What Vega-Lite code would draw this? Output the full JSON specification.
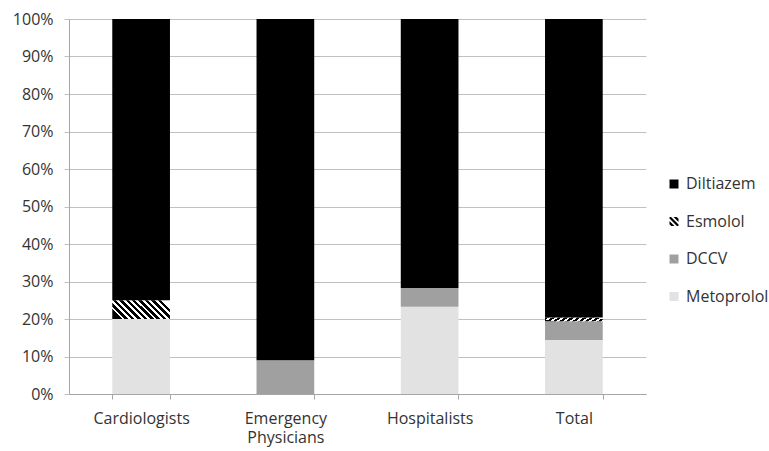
{
  "$schema": "https://vega.github.io/schema/vega-lite/v6.json",
  "width": 577,
  "height": 375,
  "autosize": {"type": "none"},
  "padding": {"left": 69, "top": 19, "right": 123, "bottom": 57},
  "background": "white",
  "config": {
    "view": {"stroke": null},
    "font": "Open Sans",
    "axis": {"labelFont": "Open Sans", "labelFontSize": 16, "labelColor": "#333333"},
    "legend": {"labelFont": "Open Sans", "labelFontSize": 16, "labelColor": "#333333"}
  },
  "data": {
    "values": [
      {"group": "Cardiologists", "drug": "Metoprolol", "share": 0.20},
      {"group": "Cardiologists", "drug": "Esmolol", "share": 0.05},
      {"group": "Cardiologists", "drug": "Diltiazem", "share": 0.75},
      {"group": "Emergency Physicians", "drug": "DCCV", "share": 0.09},
      {"group": "Emergency Physicians", "drug": "Diltiazem", "share": 0.91},
      {"group": "Hospitalists", "drug": "Metoprolol", "share": 0.233},
      {"group": "Hospitalists", "drug": "DCCV", "share": 0.05},
      {"group": "Hospitalists", "drug": "Diltiazem", "share": 0.717},
      {"group": "Total", "drug": "Metoprolol", "share": 0.144},
      {"group": "Total", "drug": "DCCV", "share": 0.05},
      {"group": "Total", "drug": "Esmolol", "share": 0.01},
      {"group": "Total", "drug": "Diltiazem", "share": 0.796}
    ]
  },
  "transform": [
    {"calculate": "indexof(['Metoprolol','DCCV','Esmolol','Diltiazem'], datum.drug)", "as": "stackRank"}
  ],
  "encoding": {
    "x": {
      "field": "group",
      "type": "nominal",
      "sort": ["Cardiologists", "Emergency Physicians", "Hospitalists", "Total"],
      "scale": {"paddingInner": 0.6, "paddingOuter": 0.3},
      "axis": {
        "title": null,
        "labelAngle": 0,
        "tickBand": "extent",
        "tickSize": 5,
        "tickColor": "#a6a6a6",
        "domainColor": "#a6a6a6",
        "labelPadding": 11,
        "labelLineHeight": 19,
        "labelExpr": "datum.label == 'Emergency Physicians' ? ['Emergency', 'Physicians'] : datum.label"
      }
    },
    "y": {
      "field": "share",
      "type": "quantitative",
      "stack": "zero",
      "scale": {"domain": [0, 1], "nice": false},
      "axis": {
        "title": null,
        "format": ".0%",
        "values": [0, 0.1, 0.2, 0.3, 0.4, 0.5, 0.6, 0.7, 0.8, 0.9, 1],
        "grid": true,
        "gridColor": "#c0c0c0",
        "tickColor": "#c0c0c0",
        "tickSize": 5,
        "domainColor": "#a6a6a6",
        "labelPadding": 11
      }
    },
    "order": {"field": "stackRank", "type": "quantitative", "sort": "ascending"}
  },
  "layer": [
    {
      "mark": {"type": "point", "filled": true, "opacity": 0},
      "encoding": {
        "fill": {
          "field": "drug",
          "type": "nominal",
          "scale": {
            "domain": ["Diltiazem", "Esmolol", "DCCV", "Metoprolol"],
            "range": ["#000000", "#000000", "#a0a0a0", "#e2e2e2"]
          },
          "legend": {
            "title": null,
            "orient": "none",
            "legendX": 597,
            "legendY": 157,
            "padding": 0,
            "symbolSize": 81,
            "symbolStrokeWidth": 0,
            "symbolOpacity": 1,
            "labelOffset": 4,
            "rowPadding": 21.5
          }
        },
        "shape": {
          "field": "drug",
          "type": "nominal",
          "scale": {
            "domain": ["Diltiazem", "Esmolol", "DCCV", "Metoprolol"],
            "range": ["square", "M-0.1,-1L0.6,-1L1,-0.6L1,0.1ZM-0.65,-1L1,0.65L1,1L0.65,1L-1,-0.65L-1,-1ZM-1,-0.1L0.1,1L-0.6,1L-1,0.6Z", "square", "square"]
          },
          "legend": {
            "title": null,
            "orient": "none",
            "legendX": 597,
            "legendY": 157,
            "padding": 0,
            "symbolSize": 81,
            "symbolStrokeWidth": 0,
            "symbolOpacity": 1,
            "labelOffset": 4,
            "rowPadding": 21.5
          }
        }
      }
    },
    {
      "mark": {"type": "bar", "strokeWidth": 0},
      "encoding": {
        "fill": {
          "condition": {
            "test": "datum.drug === 'Esmolol'",
            "value": {
              "gradient": "linear",
              "x1": 0, "y1": 0.663, "x2": 1, "y2": 0.337,
              "stops": [
                {"offset": 0, "color": "#000000"}, {"offset": 0.055, "color": "#000000"}, {"offset": 0.055, "color": "#ffffff"}, {"offset": 0.1, "color": "#ffffff"},
                {"offset": 0.1, "color": "#000000"}, {"offset": 0.155, "color": "#000000"}, {"offset": 0.155, "color": "#ffffff"}, {"offset": 0.2, "color": "#ffffff"},
                {"offset": 0.2, "color": "#000000"}, {"offset": 0.255, "color": "#000000"}, {"offset": 0.255, "color": "#ffffff"}, {"offset": 0.3, "color": "#ffffff"},
                {"offset": 0.3, "color": "#000000"}, {"offset": 0.355, "color": "#000000"}, {"offset": 0.355, "color": "#ffffff"}, {"offset": 0.4, "color": "#ffffff"},
                {"offset": 0.4, "color": "#000000"}, {"offset": 0.455, "color": "#000000"}, {"offset": 0.455, "color": "#ffffff"}, {"offset": 0.5, "color": "#ffffff"},
                {"offset": 0.5, "color": "#000000"}, {"offset": 0.555, "color": "#000000"}, {"offset": 0.555, "color": "#ffffff"}, {"offset": 0.6, "color": "#ffffff"},
                {"offset": 0.6, "color": "#000000"}, {"offset": 0.655, "color": "#000000"}, {"offset": 0.655, "color": "#ffffff"}, {"offset": 0.7, "color": "#ffffff"},
                {"offset": 0.7, "color": "#000000"}, {"offset": 0.755, "color": "#000000"}, {"offset": 0.755, "color": "#ffffff"}, {"offset": 0.8, "color": "#ffffff"},
                {"offset": 0.8, "color": "#000000"}, {"offset": 0.855, "color": "#000000"}, {"offset": 0.855, "color": "#ffffff"}, {"offset": 0.9, "color": "#ffffff"},
                {"offset": 0.9, "color": "#000000"}, {"offset": 0.955, "color": "#000000"}, {"offset": 0.955, "color": "#ffffff"}, {"offset": 1, "color": "#ffffff"}
              ]
            }
          },
          "field": "drug",
          "type": "nominal",
          "legend": null
        }
      }
    }
  ]
}
